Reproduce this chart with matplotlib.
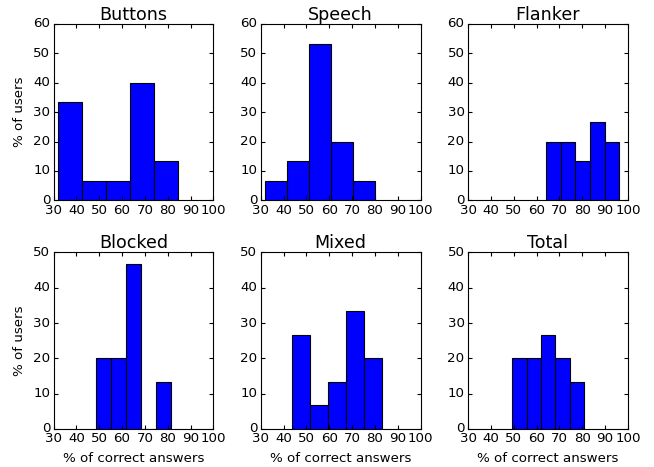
import matplotlib
matplotlib.use('Agg')
import matplotlib.pyplot as plt

# bin edges (% correct) and share of users (%) per condition
buttons_bins = [32.1, 42.6, 52.9, 63.4, 73.8, 84.3]
buttons_pct = [33.3, 6.67, 6.67, 40.0, 13.3]

speech_bins = [32.0, 41.6, 51.2, 60.7, 70.3, 79.9]
speech_pct = [6.67, 13.3, 53.3, 20.0, 6.67]

flanker_bins = [64.0, 70.5, 77.0, 83.4, 89.9, 96.3]
flanker_pct = [20.0, 20.0, 13.3, 26.7, 20.0]

blocked_bins = [48.4, 55.1, 61.7, 68.4, 75.0, 81.6]
blocked_pct = [20.0, 20.0, 46.7, 0.0, 13.3]

mixed_bins = [43.8, 51.7, 59.5, 67.4, 75.3, 83.2]
mixed_pct = [26.7, 6.67, 13.3, 33.3, 20.0]

total_bins = [49.3, 55.6, 62.0, 68.3, 74.6, 80.9]
total_pct = [20.0, 20.0, 26.7, 20.0, 13.3]

titles = ['Buttons', 'Speech', 'Flanker', 'Blocked', 'Mixed', 'Total']
all_bins = [buttons_bins, speech_bins, flanker_bins, blocked_bins, mixed_bins, total_bins]
all_pct = [buttons_pct, speech_pct, flanker_pct, blocked_pct, mixed_pct, total_pct]
row_ymax = [60, 50]

plt.style.use('classic')
plt.rcParams['font.family'] = 'DejaVu Sans'

fig, axes = plt.subplots(2, 3, figsize=(6.54, 4.67), dpi=100)
fig.patch.set_facecolor('white')
fig.subplots_adjust(left=0.082, right=0.960, top=0.949, bottom=0.0814,
                    wspace=0.297, hspace=0.295)

for i, ax in enumerate(axes.flat):
    bins = all_bins[i]
    pct = all_pct[i]
    ax.hist(bins[:-1], bins=bins, weights=pct, color='b',
            edgecolor='black', linewidth=0.8)
    ax.set_xlim(30, 100)
    ax.set_ylim(0, row_ymax[i // 3])
    ax.set_xticks(range(30, 101, 10))
    ax.set_yticks(range(0, row_ymax[i // 3] + 1, 10))
    ax.set_title(titles[i], fontsize=12.6, pad=3)
    ax.tick_params(labelsize=9.6, length=3.2, width=0.8, pad=2.5, direction='in',
                   top=True, right=True)
    for s in ax.spines.values():
        s.set_linewidth(0.8)
    ax.set_facecolor('white')
    if i % 3 == 0:
        ax.set_ylabel('% of users', fontsize=9.6)
    if i >= 3:
        ax.set_xlabel('% of correct answers', fontsize=9.6)

fig.savefig('out.png', dpi=100, facecolor='white')
